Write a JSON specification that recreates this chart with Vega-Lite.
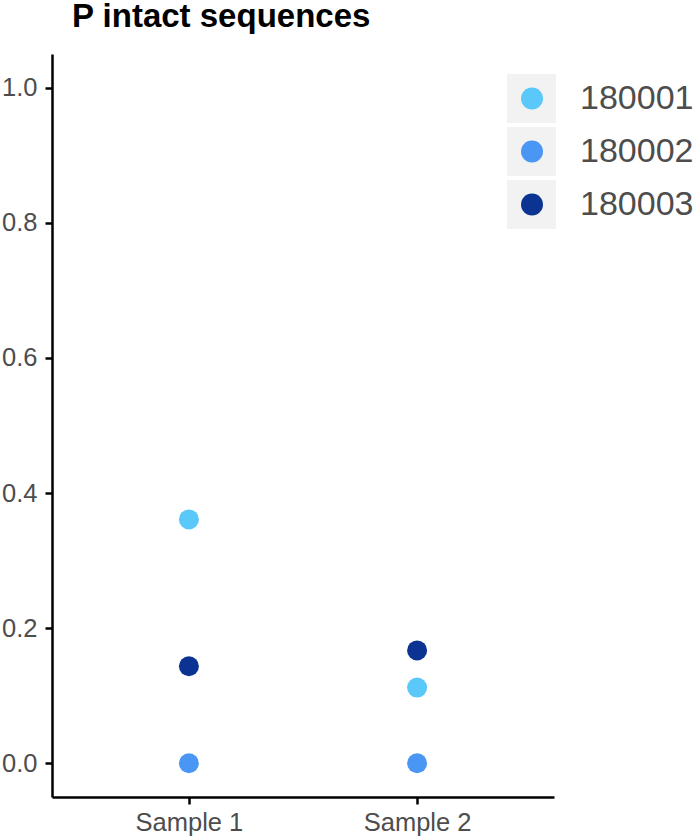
{
  "$schema": "https://vega.github.io/schema/vega-lite/v6.json",
  "width": 502,
  "height": 743,
  "autosize": {"type": "none"},
  "padding": {"left": 52, "top": 54, "right": 146, "bottom": 43},
  "title": {
    "text": "P intact sequences",
    "anchor": "start",
    "frame": "group",
    "dx": 20,
    "offset": -13,
    "baseline": "bottom",
    "fontSize": 33,
    "font": "Liberation Sans",
    "fontWeight": "bold",
    "color": "#000000"
  },
  "data": {
    "values": [
      {"sample": "Sample 1", "id": "180001", "key": "180001", "p": 0.361},
      {"sample": "Sample 1", "id": "180002", "key": "180002", "p": 0.0},
      {"sample": "Sample 1", "id": "180003", "key": "180003", "p": 0.1435},
      {"sample": "Sample 2", "id": "180001", "key": "180001", "p": 0.112},
      {"sample": "Sample 2", "id": "180002", "key": "180002", "p": 0.0},
      {"sample": "Sample 2", "id": "180003", "key": "180003", "p": 0.167}
    ]
  },
  "encoding": {
    "x": {
      "field": "sample",
      "type": "nominal",
      "scale": {"type": "point", "padding": 0.6},
      "axis": {"title": null, "labelAngle": 0, "labelPadding": 6}
    },
    "y": {
      "field": "p",
      "type": "quantitative",
      "scale": {"domain": [-0.05, 1.05], "nice": false, "zero": false},
      "axis": {"title": null, "values": [0, 0.2, 0.4, 0.6, 0.8, 1.0], "format": ".1f", "labelPadding": 8}
    }
  },
  "layer": [
    {
      "mark": {"type": "point", "filled": true, "color": "#F2F2F2", "size": 2401, "clip": true, "yOffset": 3000},
      "encoding": {
        "shape": {
          "field": "key",
          "type": "nominal",
          "scale": {"range": ["square", "square", "square"]},
          "legend": {
            "orient": "none",
            "legendX": 455,
            "legendY": 20,
            "title": null,
            "symbolType": "square",
            "symbolSize": 2401,
            "symbolFillColor": "#F2F2F2",
            "symbolStrokeWidth": 0,
            "symbolOpacity": 1,
            "labelFontSize": 34,
            "labelExpr": "''",
            "rowPadding": 4,
            "padding": 0,
            "zindex": 0
          }
        }
      }
    },
    {
      "mark": {"type": "circle", "size": 400, "opacity": 1},
      "encoding": {
        "color": {
          "field": "id",
          "type": "nominal",
          "scale": {"domain": ["180001", "180002", "180003"], "range": ["#5BC8FA", "#4A96F4", "#0B3492"]},
          "legend": {
            "orient": "none",
            "legendX": 463,
            "legendY": 27.5,
            "title": null,
            "symbolType": "circle",
            "symbolSize": 484,
            "symbolStrokeWidth": 0,
            "symbolOpacity": 1,
            "labelFontSize": 34,
            "labelFont": "Liberation Sans",
            "labelColor": "#4D4D4D",
            "labelOffset": 31,
            "labelBaseline": "middle",
            "rowPadding": 19,
            "padding": 0,
            "zindex": 1
          }
        }
      }
    }
  ],
  "config": {
    "view": {"stroke": null},
    "axis": {
      "grid": false,
      "labelFont": "Liberation Sans",
      "labelFontSize": 25.5,
      "labelColor": "#4D4D4D",
      "domainColor": "#000000",
      "domainWidth": 2.5,
      "tickColor": "#000000",
      "tickWidth": 2.5,
      "tickSize": 7
    }
  }
}
